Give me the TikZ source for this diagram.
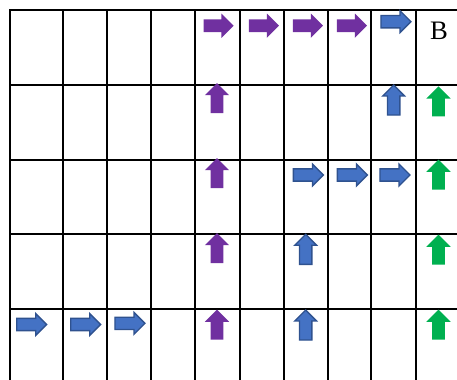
\documentclass[tikz,border=0pt]{standalone}
\usepackage{fontspec}
\setmainfont{Liberation Serif}
\usetikzlibrary{shapes.arrows}
\definecolor{gridink}{HTML}{000000}
\definecolor{pathpurple}{HTML}{7030A0}
\definecolor{pathblue}{HTML}{4472C4}
\definecolor{blueedge}{HTML}{2F528F}
\definecolor{pathgreen}{HTML}{00B050}
\tikzset{
  cellline/.style={draw=gridink,line width=1.6pt,line cap=rect},
  blockarr/.style={single arrow,inner sep=4.6pt,minimum height=22.5pt,
                   single arrow head extend=4.3pt,anchor=tail},
  rightarr/.style={blockarr},
  uparr/.style={blockarr,shape border rotate=90},
  purplearr/.style={fill=pathpurple,draw=none},
  bluearr/.style={fill=pathblue,draw=blueedge,line width=1pt,inner sep=4.1pt,
                  single arrow head extend=3.6pt},
  greenarr/.style={fill=pathgreen,draw=none},
  goallabel/.style={font=\fontsize{20}{24}\selectfont,anchor=base,inner sep=0pt}
}
\begin{document}
\begin{tikzpicture}[x=0.75pt,y=-0.75pt]
    \path[use as bounding box] (0,0) rectangle (457,379);

    % grid
    \foreach \gx in {10,62.7,107,151,195.3,239.7,284,328,371.3,416.3}
      \draw[cellline] (\gx,10) -- (\gx,379);
    \foreach \gy in {10,84.7,159.7,234.3,309.3}
      \draw[cellline] (10,\gy) -- (457,\gy);

    % purple route
    \foreach \nm/\ax in {pr1/203.3,pr2/248.7,pr3/292.7,pr4/336.7}
      \node[rightarr,purplearr] (\nm) at (\ax,25.7) {};
    \foreach \nm/\ay in {pu1/113.3,pu2/188.3,pu3/263.3,pu4/340}
      \node[uparr,purplearr] (\nm) at (217,\ay) {};

    % blue route
    \foreach \nm/\ax/\ay in {br1/16/324.5,br2/70/324.5,br3/114.3/323.3}
      \node[rightarr,bluearr] (\nm) at (\ax,\ay) {};
    \foreach \nm/\ay in {bu1/340.7,bu2/265}
      \node[uparr,bluearr] (\nm) at (305.7,\ay) {};
    \foreach \nm/\ax in {br4/292.7,br5/336.7,br6/379.3}
      \node[rightarr,bluearr] (\nm) at (\ax,175) {};
    \node[uparr,bluearr] (bu3) at (393.7,115.7) {};
    \node[rightarr,bluearr] (br7) at (380.3,21.7) {};

    % green route
    \foreach \nm/\ay in {gu1/340,gu2/265,gu3/190,gu4/116.7}
      \node[uparr,greenarr] (\nm) at (438.5,\ay) {};

    \node[goallabel] (goal) at (439,39.3) {B};
\end{tikzpicture}
\end{document}
